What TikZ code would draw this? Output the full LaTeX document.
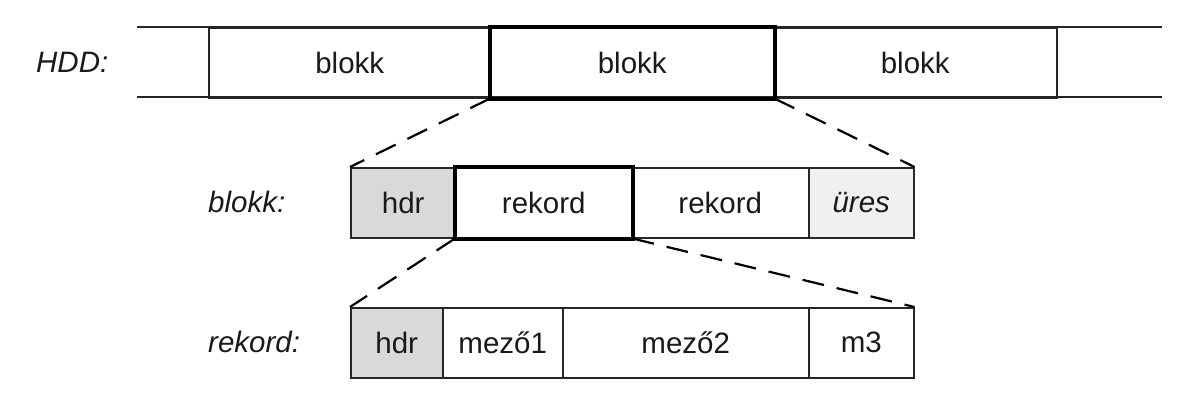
\documentclass[tikz,border=0pt]{standalone}
\usepackage{fontspec}
\setmainfont{Liberation Sans}
\begin{document}
\begin{tikzpicture}[x=1pt,y=-1pt,
  thin line/.style={line width=1.5pt,draw=black!85},
  thick line/.style={line width=4pt,draw=black},
  cell/.style={thin line,anchor=north west,inner sep=0pt,font=\fontsize{29.5}{33}\selectfont,text=black!90},
  lbl/.style={anchor=west,inner sep=0pt,font=\fontsize{29.5}{33}\selectfont\itshape,text=black!90},
  zoomline/.style={line width=2.2pt,dash pattern=on 22pt off 13pt}]
\useasboundingbox (0,0) rectangle (1195,416);
% HDD row
\draw[thin line] (137,27) coordinate (ht1) -- (1162,27) coordinate (ht2);
\draw[thin line] (137,97) coordinate (hb1) -- (1162,97) coordinate (hb2);
\node[cell,minimum width=282pt,minimum height=70pt] (hb1n) at (208,27) {blokk};
\node[cell,draw=none,minimum width=283pt,minimum height=70pt] (hb2n) at (490,27) {blokk};
\node[cell,minimum width=283pt,minimum height=70pt] (hb3n) at (773,27) {blokk};
\draw[thin line] (hb3n.north east) -- (hb3n.south east);
\draw[thick line] (hb2n.north west) rectangle (hb2n.south east);
\node[lbl] (hddl) at (36,62) {HDD:};
% blokk row
\node[cell,fill=black!15,minimum width=105pt,minimum height=70pt] (bh) at (350,167) {hdr};
\node[cell,draw=none,minimum width=176pt,minimum height=70pt] (br1) at (455,167) {rekord};
\node[cell,minimum width=177pt,minimum height=70pt] (br2) at (631,167) {rekord};
\node[cell,fill=black!6,minimum width=105pt,minimum height=70pt] (bu) at (808,167) {\itshape üres};
\draw[thick line] (br1.north west) rectangle (br1.south east);
\node[lbl] (blokkl) at (208,202) {blokk:};
% rekord row
\node[cell,fill=black!15,minimum width=92pt,minimum height=70pt] (rh) at (350,307) {hdr};
\node[cell,minimum width=120pt,minimum height=70pt] (rm1) at (442,307) {mező1};
\node[cell,minimum width=246pt,minimum height=70pt] (rm2) at (562,307) {mező2};
\node[cell,minimum width=105pt,minimum height=70pt] (rm3) at (808,307) {m3};
\node[lbl] (rekordl) at (208,342) {rekord:};
% zoom lines
\draw[zoomline] (hb2n.south west) -- (bh.north west);
\draw[zoomline] (hb2n.south east) -- (bu.north east);
\draw[zoomline] (br1.south west) -- (rh.north west);
\draw[zoomline] (br1.south east) -- (rm3.north east);
\end{tikzpicture}
\end{document}
